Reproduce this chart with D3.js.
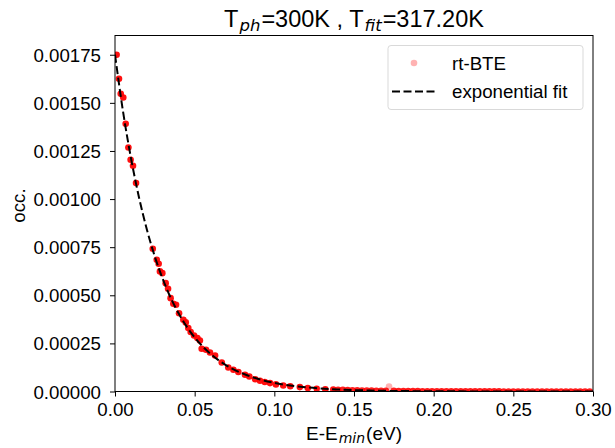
<!DOCTYPE html>
<html>
<head>
<meta charset="utf-8">
<script src="https://cdn.jsdelivr.net/npm/d3@7"></script>
<style>
  html, body { margin: 0; padding: 0; background: #fff; }
  text { font-family: "Liberation Sans", Arial, sans-serif; }
</style>
</head>
<body>
<svg id="chart" width="615" height="448"></svg>
<script>
// ---- data ----
const xTicks = [0.00, 0.05, 0.10, 0.15, 0.20, 0.25, 0.30];
const yTicks = [0, 0.00025, 0.0005, 0.00075, 0.001, 0.00125, 0.0015, 0.00175];

// rt-BTE scatter points (energy in eV, occupation) and number of overlapping samples
const pointsE = [0.0010, 0.0025, 0.0036, 0.0052, 0.0067, 0.0084, 0.0098, 0.0113, 0.0132,
  0.0237, 0.0262, 0.0274, 0.0282, 0.0297, 0.0318, 0.0333, 0.0349, 0.0366, 0.0383, 0.0402,
  0.0429, 0.0444, 0.0460, 0.0475, 0.0496, 0.0517, 0.0533, 0.0544, 0.0571, 0.0596, 0.0628,
  0.0670, 0.0711, 0.0743, 0.0774, 0.0816, 0.0843, 0.0880, 0.0910, 0.0940, 0.0973, 0.1010,
  0.1056, 0.1100, 0.1160, 0.1210, 0.1266, 0.1320, 0.1370,
  0.1400, 0.1430, 0.1460, 0.1490, 0.1520, 0.1550, 0.1580, 0.1610, 0.1640, 0.1670, 0.1700,
  0.1720, 0.1750, 0.1780, 0.1810, 0.1840, 0.1870, 0.1900, 0.1930, 0.1960, 0.1990, 0.2020,
  0.2050, 0.2080, 0.2110, 0.2140, 0.2170, 0.2200, 0.2230, 0.2260, 0.2290, 0.2320, 0.2350,
  0.2380, 0.2410, 0.2440, 0.2470, 0.2500, 0.2530, 0.2560, 0.2590, 0.2620, 0.2650, 0.2680,
  0.2710, 0.2740, 0.2770, 0.2800, 0.2830, 0.2860, 0.2890, 0.2920, 0.2950, 0.2980];
const pointsOcc = [0.001750, 0.001625, 0.001547, 0.001528, 0.001391, 0.001268, 0.001204, 0.001173, 0.001083,
  0.000742, 0.000685, 0.000664, 0.000624, 0.000615, 0.000563, 0.000534, 0.000485, 0.000456, 0.000451, 0.000407,
  0.000373, 0.000359, 0.000330, 0.000309, 0.000291, 0.000278, 0.000265, 0.000222, 0.000217, 0.000203, 0.000187,
  0.000151, 0.000125, 0.000113, 0.000101, 0.0000868, 0.000078, 0.000064, 0.0000556, 0.000049, 0.0000437, 0.000037,
  0.0000312, 0.000027, 0.0000229, 0.000018, 0.000014, 0.000011, 0.000010,
  0.0000092, 0.0000083, 0.0000075, 0.0000067, 0.0000061, 0.0000055, 0.0000050, 0.0000045, 0.0000040, 0.0000036, 0.0000033,
  0.0000260, 0.0000030, 0.0000027, 0.0000024, 0.0000022, 0.0000020, 0.0000018, 0.0000016, 0.0000015, 0.0000013, 0.0000012,
  0.0000011, 0.0000010, 0.0000009, 0.0000008, 0.0000008, 0.0000007, 0.0000006, 0.0000006, 0.0000005, 0.0000005, 0.0000004,
  0.0000004, 0.0000004, 0.0000003, 0.0000003, 0.0000003, 0.0000002, 0.0000002, 0.0000002, 0.0000002, 0.0000002, 0.0000001,
  0.0000001, 0.0000001, 0.0000001, 0.0000001, 0.0000001, 0.0000001, 0.0000001, 0.0000001, 0.0000001, 0.0000001];
const pointsCount = [8, 8, 8, 8, 8, 8, 8, 8, 8,
  8, 8, 8, 8, 8, 8, 8, 8, 8, 8, 8,
  8, 8, 8, 8, 8, 8, 8, 8, 8, 8, 8,
  8, 8, 8, 8, 8, 8, 8, 8, 8, 8, 8,
  8, 8, 8, 8, 8, 8, 8,
  6, 6, 6, 6, 6, 6, 6, 6, 6, 6, 6,
  1, 6, 6, 6, 6, 6, 6, 6, 6, 6, 6,
  6, 6, 6, 6, 6, 6, 6, 6, 6, 6, 6,
  6, 6, 6, 6, 6, 6, 6, 6, 6, 6, 6,
  6, 6, 6, 6, 6, 6, 6, 6, 6, 6];

// exponential fit curve
const fitE = [0, 0.005, 0.01, 0.015, 0.02, 0.025, 0.03, 0.035, 0.04, 0.045, 0.05, 0.06, 0.07,
  0.08, 0.09, 0.10, 0.12, 0.14, 0.16, 0.18, 0.20, 0.25, 0.30];
const fitOcc = [0.001750, 0.001457, 0.001214, 0.001011, 0.000842, 0.000701, 0.000584, 0.000486,
  0.000405, 0.000337, 0.000281, 0.000195, 0.000135, 0.0000938, 0.0000651, 0.0000451, 0.0000217,
  0.0000104, 0.0000050, 0.0000024, 0.0000012, 0.0000002, 0.0000000];

// ---- drawing ----
const svg = d3.select("#chart");
const L = 115, R = 593, T = 35.5, B = 391.5;
const x = d3.scaleLinear().domain([0, 0.30]).range([L, R]);
const y = d3.scaleLinear().domain([0, 0.00185]).range([B, T]);
const subFont = '"DejaVu Sans", sans-serif';

svg.append("clipPath").attr("id", "clip")
  .append("rect").attr("x", L).attr("y", T).attr("width", R - L).attr("height", B - T);
const plot = svg.append("g");

// scatter
const pts = pointsE.map((e, i) => ({ e, o: pointsOcc[i], n: pointsCount[i] }));
plot.append("g").attr("clip-path", "url(#clip)")
  .selectAll("circle").data(pts).join("circle")
  .attr("cx", d => x(d.e)).attr("cy", d => y(d.o)).attr("r", 3.3)
  .attr("fill", "#ff0000")
  .attr("fill-opacity", d => 1 - Math.pow(0.7, d.n));

// fit line
const fit = fitE.map((e, i) => [e, fitOcc[i]]);
plot.append("path").datum(fit)
  .attr("clip-path", "url(#clip)")
  .attr("d", d3.line().x(d => x(d[0])).y(d => y(d[1])).curve(d3.curveMonotoneX))
  .attr("fill", "none").attr("stroke", "#000").attr("stroke-width", 2)
  .attr("stroke-dasharray", "8,3.5");

// axes
const fs = 18.7;
const xAxis = svg.append("g").attr("transform", `translate(0,${B})`)
  .call(d3.axisBottom(x).tickValues(xTicks).tickFormat(d3.format(".2f")).tickSize(5).tickPadding(6));
const yAxis = svg.append("g").attr("transform", `translate(${L},0)`)
  .call(d3.axisLeft(y).tickValues(yTicks).tickFormat(d3.format(".5f")).tickSize(5).tickPadding(9));
[xAxis, yAxis].forEach(g => {
  g.select(".domain").remove();
  g.selectAll("line").attr("stroke", "#000").attr("stroke-width", 1);
  g.selectAll("text").attr("font-size", fs).attr("fill", "#000")
    .style("font-family", '"Liberation Sans", Arial, sans-serif');
});
yAxis.selectAll("text").attr("dy", "0.35em");

// frame
svg.append("rect").attr("x", L).attr("y", T).attr("width", R - L).attr("height", B - T)
  .attr("fill", "none").attr("stroke", "#000").attr("stroke-width", 1);

// title
const title = svg.append("text").attr("x", (L + R) / 2).attr("y", 27)
  .attr("text-anchor", "middle").attr("font-size", 23.5).attr("fill", "#000");
title.append("tspan").text("T");
title.append("tspan").attr("font-style", "italic").attr("font-size", 16.5)
  .style("font-family", subFont).attr("dx", 1).attr("dy", 4).text("ph");
title.append("tspan").attr("dx", 1).attr("dy", -4).text("=300K , T");
title.append("tspan").attr("font-style", "italic").attr("font-size", 16.5)
  .style("font-family", subFont).attr("dx", 1).attr("dy", 4).text("fit");
title.append("tspan").attr("dx", 1).attr("dy", -4).text("=317.20K");

// x label
const xl = svg.append("text").attr("x", (L + R) / 2).attr("y", 440)
  .attr("text-anchor", "middle").attr("font-size", 19).attr("fill", "#000");
xl.append("tspan").text("E-E");
xl.append("tspan").attr("font-style", "italic").attr("font-size", 14)
  .style("font-family", subFont).attr("dx", 1).attr("dy", 3).text("min");
xl.append("tspan").attr("dx", 1).attr("dy", -3).text("(eV)");

// y label
svg.append("text").attr("transform", `translate(25,${(T + B) / 2 - 8}) rotate(-90)`)
  .attr("text-anchor", "middle").attr("font-size", fs).attr("fill", "#000").text("occ.");

// legend
const lg = svg.append("g");
lg.append("rect").attr("x", 388).attr("y", 45.5).attr("width", 195).attr("height", 64)
  .attr("rx", 3).attr("fill", "#fff").attr("fill-opacity", 0.8)
  .attr("stroke", "#d9d9d9").attr("stroke-width", 1);
lg.append("circle").attr("cx", 414).attr("cy", 63).attr("r", 3.3)
  .attr("fill", "#ff0000").attr("fill-opacity", 0.3);
lg.append("text").attr("x", 452).attr("y", 69.5).attr("font-size", fs).attr("fill", "#000").text("rt-BTE");
lg.append("line").attr("x1", 392).attr("x2", 435).attr("y1", 91.5).attr("y2", 91.5)
  .attr("stroke", "#000").attr("stroke-width", 2).attr("stroke-dasharray", "8,3.5");
lg.append("text").attr("x", 452).attr("y", 98).attr("font-size", fs).attr("fill", "#000").text("exponential fit");
</script>
</body>
</html>
